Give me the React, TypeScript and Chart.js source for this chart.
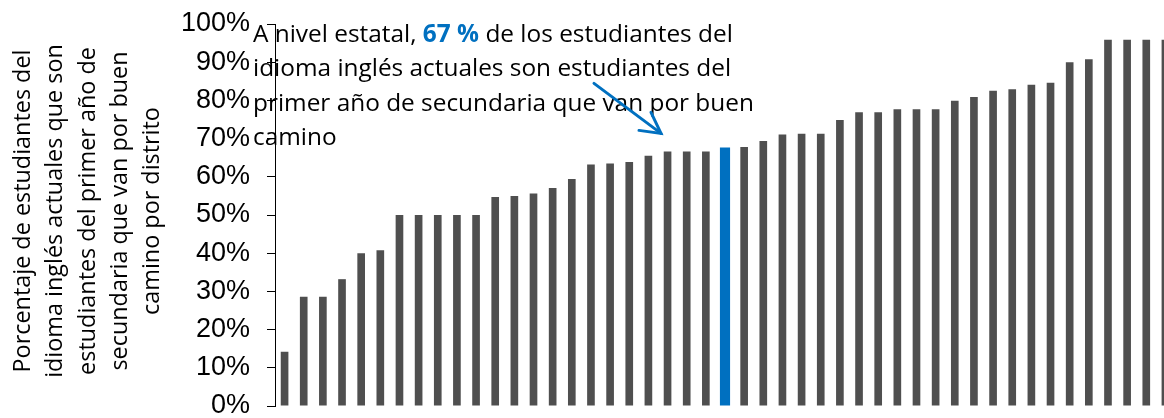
import React, { useEffect, useRef } from "react";
import { Chart, registerables } from "chart.js";

Chart.register(...registerables);

const districts: string[] = Array.from({ length: 47 }, (_, i) => `D${i + 1}`);
const districtValues: number[] = [
  14.2, 28.6, 28.6, 33.2, 40.0, 40.8, 50, 50, 50, 50, 50, 54.7, 55.0, 55.6, 57.1, 59.4,
  63.2, 63.5, 63.9, 65.5, 66.6, 66.6, 66.6, 67.7, 67.8, 69.4, 71.1, 71.3, 71.3, 74.9,
  76.9, 76.9, 77.7, 77.7, 77.7, 79.9, 80.9, 82.5, 82.9, 84.1, 84.6, 90.0, 90.8, 95.9,
  95.9, 95.9, 95.9,
];
const stateIndex = 23;
const yTicks: number[] = [0, 10, 20, 30, 40, 50, 60, 70, 80, 90, 100];
const axisTitleLines: string[] = [
  "Porcentaje de estudiantes del",
  "idioma inglés actuales que son",
  "estudiantes del primer año de",
  "secundaria que van por buen",
  "camino por distrito",
];
const notePre = "A nivel estatal, ";
const noteBold = "67 %";
const notePost = " de los estudiantes del";
const noteLines: string[] = [
  "idioma inglés actuales son estudiantes del",
  "primer año de secundaria que van por buen",
  "camino",
];

const GRAY = "#4f4f4f";
const BLUE = "#0070c0";

const grayData = districtValues.map((v, i) => (i === stateIndex ? null : v));
const blueData = districtValues.map((v, i) => (i === stateIndex ? v : null));

const overlayPlugin = {
  id: "overlay",
  afterDraw(chart: any) {
    const ctx = chart.ctx;
    // axis title (rotated, multi-line)
    ctx.save();
    ctx.fillStyle = "#000";
    ctx.font = "23.4px 'Open Sans'";
    ctx.textAlign = "center";
    ctx.textBaseline = "alphabetic";
    axisTitleLines.forEach((line, i) => {
      ctx.save();
      ctx.translate(30 + i * 32.3, 211);
      ctx.rotate(-Math.PI / 2);
      ctx.fillText(line, 0, 0);
      ctx.restore();
    });
    ctx.restore();

    // annotation text
    ctx.save();
    ctx.textAlign = "left";
    ctx.textBaseline = "alphabetic";
    const x0 = 253;
    const base0 = 42;
    const lh = 34.3;
    const f = "24.4px 'Open Sans'";
    ctx.font = f;
    ctx.fillStyle = "#000";
    ctx.fillText(notePre, x0, base0);
    let x = x0 + ctx.measureText(notePre).width;
    ctx.font = "bold " + f;
    ctx.fillStyle = BLUE;
    ctx.fillText(noteBold, x, base0);
    x += ctx.measureText(noteBold).width;
    ctx.font = f;
    ctx.fillStyle = "#000";
    ctx.fillText(notePost, x, base0);
    noteLines.forEach((line, i) => {
      ctx.fillText(line, x0, base0 + lh * (i + 1));
    });
    ctx.restore();

    // arrow pointing to the state bar
    const xs = chart.scales.x;
    const ys = chart.scales.y;
    const bx = xs.getPixelForValue(stateIndex);
    const by = ys.getPixelForValue(districtValues[stateIndex]);
    const tipX = bx - 64;
    const tipY = by - 14;
    const sx = tipX - 67;
    const sy = tipY - 50;
    ctx.save();
    ctx.strokeStyle = BLUE;
    ctx.lineWidth = 3;
    ctx.lineCap = "round";
    ctx.beginPath();
    ctx.moveTo(sx, sy);
    ctx.lineTo(tipX, tipY);
    ctx.stroke();
    ctx.beginPath();
    ctx.moveTo(tipX - 22, tipY - 3);
    ctx.lineTo(tipX, tipY);
    ctx.lineTo(tipX - 10, tipY - 21);
    ctx.stroke();
    ctx.restore();
  },
};

export default function App() {
  const ref = useRef<HTMLCanvasElement | null>(null);
  useEffect(() => {
    if (!ref.current) return;
    const chart = new Chart(ref.current, {
      type: "bar",
      data: {
        labels: districts,
        datasets: [
          {
            data: grayData as any,
            backgroundColor: GRAY,
            barPercentage: 0.4,
            categoryPercentage: 1,
            grouped: false,
          } as any,
          {
            data: blueData as any,
            backgroundColor: BLUE,
            barPercentage: 0.53,
            categoryPercentage: 1,
            grouped: false,
          } as any,
        ],
      },
      options: {
        animation: false,
        responsive: false,
        maintainAspectRatio: false,
        layout: { padding: { left: 0, right: 0, top: 24, bottom: 24 } },
        plugins: { legend: { display: false }, tooltip: { enabled: false } },
        scales: {
          x: { display: false, offset: true },
          y: {
            min: 0,
            max: 100,
            afterFit: (scale: any) => {
              scale.width = 275;
              scale.paddingTop = 0;
              scale.paddingBottom = 0;
            },
            afterBuildTicks: (scale: any) => {
              scale.ticks = yTicks.map((v) => ({ value: v }));
            },
            ticks: {
              callback: (v: any) => `${v}%`,
              color: "#000",
              font: { family: "'Liberation Sans', Arial", size: 27 },
              padding: 17,
            },
            grid: {
              display: true,
              drawOnChartArea: false,
              drawTicks: true,
              tickLength: 8,
              color: "#000",
              lineWidth: 1,
            },
            border: { display: true, color: "#000", width: 1 },
          },
        },
      },
      plugins: [overlayPlugin],
    });
    return () => chart.destroy();
  }, []);
  return (
    <div style={{ position: "fixed", left: 0, top: 0, width: 1175, height: 430, overflow: "hidden" }}>
      <canvas ref={ref} width={1175} height={430} style={{ width: 1175, height: 430, display: "block" }} />
    </div>
  );
}
